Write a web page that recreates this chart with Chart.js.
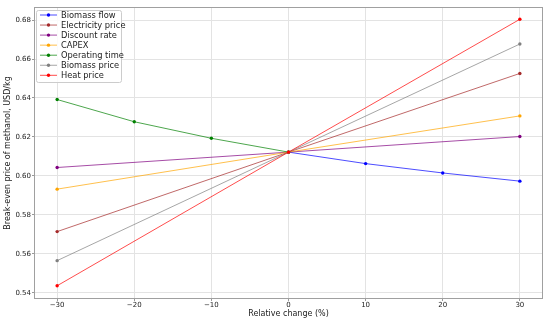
<!DOCTYPE html>
<html><head><meta charset="utf-8">
<script src="https://cdn.jsdelivr.net/npm/chart.js@4/dist/chart.umd.min.js"></script>
<style>html,body{margin:0;padding:0;background:#fff}#wrap{width:550px;height:322px}</style>
</head><body><div id="wrap"><canvas id="c" width="550" height="322"></canvas></div>
<script>
// Series names and colours
const seriesNames = ["Biomass flow","Electricity price","Discount rate","CAPEX","Operating time","Biomass price","Heat price"];
const seriesColors = ["#0000ff","#a52a2a","#800080","#ffa500","#008000","#808080","#ff0000"];

// Relative change (%) and break-even price (USD/kg) per series
const xBiomassFlow = [0, 10, 20, 30];
const yBiomassFlow = [0.6122, 0.6063, 0.6015, 0.5973];
const xElectricity = [-30, 0, 30];
const yElectricity = [0.5714, 0.6122, 0.6526];
const xDiscount = [-30, 0, 30];
const yDiscount = [0.6043, 0.6122, 0.6202];
const xCapex = [-30, 0, 30];
const yCapex = [0.5932, 0.6122, 0.6308];
const xOperating = [-30, -20, -10, 0];
const yOperating = [0.6392, 0.6278, 0.6193, 0.6122];
const xBiomassPrice = [-30, 0, 30];
const yBiomassPrice = [0.5565, 0.6122, 0.6677];
const xHeat = [-30, 0, 30];
const yHeat = [0.5436, 0.6122, 0.6804];

// Tick labels
const xTicks = [-30, -20, -10, 0, 10, 20, 30];
const yTicks = [0.54, 0.56, 0.58, 0.60, 0.62, 0.64, 0.66, 0.68];

const xs = [xBiomassFlow, xElectricity, xDiscount, xCapex, xOperating, xBiomassPrice, xHeat];
const ys = [yBiomassFlow, yElectricity, yDiscount, yCapex, yOperating, yBiomassPrice, yHeat];

function alpha(hex, a){
  const r=parseInt(hex.slice(1,3),16), g=parseInt(hex.slice(3,5),16), b=parseInt(hex.slice(5,7),16);
  return `rgba(${r},${g},${b},${a})`;
}

const datasets = seriesNames.map((n,i)=>({
  label: n,
  data: xs[i].map((x,j)=>({x:x, y:ys[i][j]})),
  borderColor: alpha(seriesColors[i],0.7),
  backgroundColor: seriesColors[i],
  pointBackgroundColor: seriesColors[i],
  pointBorderWidth: 0,
  pointRadius: 1.7,
  borderWidth: 1,
  tension: 0,
  order: seriesNames.length - i
}));

const FONT = "'DejaVu Sans', sans-serif";

const framePlugin = {
  id: 'frame',
  afterDraw(chart){
    const ctx = chart.ctx, a = chart.chartArea;
    ctx.save();
    ctx.strokeStyle = '#a0a0a0';
    ctx.lineWidth = 1;
    ctx.strokeRect(Math.round(a.left)+0.5, Math.round(a.top)+0.5, Math.round(a.right-a.left)-1, Math.round(a.bottom-a.top)-1);
    // legend
    const bx=36, by=10, bw=85, bh=72;
    ctx.fillStyle='rgba(255,255,255,0.85)';
    ctx.strokeStyle='#cccccc';
    ctx.beginPath();
    if (ctx.roundRect) ctx.roundRect(bx+0.5,by+0.5,bw,bh,2); else ctx.rect(bx+0.5,by+0.5,bw,bh);
    ctx.fill(); ctx.stroke();
    ctx.font = "8.3px " + FONT;
    ctx.textBaseline = 'middle';
    ctx.textAlign = 'left';
    seriesNames.forEach((n,i)=>{
      const y = 15 + i*10.05;
      ctx.strokeStyle = alpha(seriesColors[i],0.7);
      ctx.lineWidth = 1;
      ctx.beginPath(); ctx.moveTo(40,y); ctx.lineTo(57,y); ctx.stroke();
      ctx.fillStyle = seriesColors[i];
      ctx.beginPath(); ctx.arc(48.5,y,1.7,0,Math.PI*2); ctx.fill();
      ctx.fillStyle = '#222';
      ctx.fillText(n, 61, y+0.5);
    });
    ctx.restore();
  }
};

new Chart(document.getElementById('c'), {
  type: 'line',
  data: { datasets },
  options: {
    responsive: false,
    animation: false,
    devicePixelRatio: 1,
    layout: { padding: { left: 0, right: 7, top: 7, bottom: 0 } },
    plugins: { legend: { display: false }, tooltip: { enabled: false } },
    scales: {
      x: {
        type: 'linear', min: -33, max: 33,
        afterBuildTicks(ax){ ax.ticks = xTicks.map(v=>({value:v})); },
        afterFit(ax){ ax.height = 23; },
        grid: { color: '#e3e3e3', lineWidth: 1, tickColor: '#999', tickLength: 2, drawTicks: true },
        border: { display: false },
        ticks: { font: { family: FONT, size: 7 }, color: '#222', padding: 0, maxRotation: 0,
          callback: v => v < 0 ? '\u2212' + Math.abs(v) : String(v) },
        title: { display: true, text: 'Relative change (%)', font: { family: FONT, size: 8 }, color: '#222', padding: { top: 0, bottom: 3 } }
      },
      y: {
        type: 'linear', min: 0.5368, max: 0.6867,
        afterBuildTicks(ax){ ax.ticks = yTicks.map(v=>({value:v})); },
        afterFit(ax){ ax.width = 34; },
        grid: { color: '#e3e3e3', lineWidth: 1, tickColor: '#999', tickLength: 2, drawTicks: true },
        border: { display: false },
        ticks: { font: { family: FONT, size: 7 }, color: '#222', padding: 1,
          callback: v => Number(v).toFixed(2) },
        title: { display: true, text: 'Break-even price of methanol, USD/kg', font: { family: FONT, size: 8 }, color: '#222', padding: { top: 3, bottom: 0 } }
      }
    }
  },
  plugins: [framePlugin]
});
</script>
</body></html>
